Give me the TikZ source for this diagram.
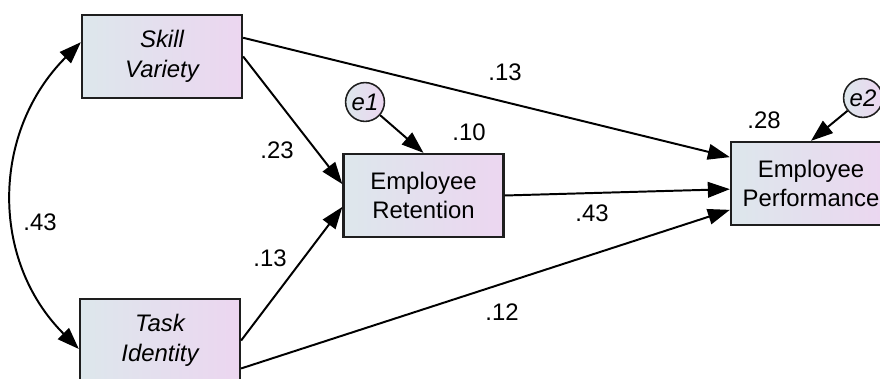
\documentclass[tikz,border=0pt]{standalone}
\usepackage{fontspec}
\setmainfont{Liberation Sans}
\usetikzlibrary{arrows.meta}

\definecolor{boxleft}{RGB}{221,231,236}
\definecolor{boxright}{RGB}{236,214,240}
\definecolor{edge}{RGB}{30,30,30}

\begin{document}
\begin{tikzpicture}[x=0.025cm, y=-0.025cm,
  var/.style={draw=edge, line width=1.6pt, left color=boxleft, right color=boxright,
    minimum width=4cm, minimum height=2.075cm, align=center, inner sep=0pt,
    font=\fontsize{17}{21}\selectfont},
  err/.style={circle, draw=edge, line width=1.1pt, left color=boxleft, right color=boxright,
    minimum size=0.97cm, inner sep=0pt, font=\fontsize{17}{21}\selectfont\itshape},
  effect/.style={line width=1.4pt, -{Triangle[length=5.5mm,width=3.9mm]}},
  coef/.style={font=\fontsize{17}{21}\selectfont}]
\useasboundingbox (0,0) rectangle (880,379);

% observed variables
\node [var] (sv) at (162,56.5) {\itshape Skill\\\itshape Variety};
\node [var] (ti) at (160,340.5) {\itshape Task\\\itshape Identity};
\node [var] (ret) at (423.5,195.5) {Employee\\Retention};
\node [var] (perf) at (811,183.5) {Employee\\Performance};

% error terms
\node [err] (e1) at (365,102) {e1};
\node [err] (e2) at (863,98) {e2};

% paths
\draw [effect] (sv.13) -- (perf.162);
\draw [effect] (sv.east) -- (ret.172);
\draw [effect] (ti.east) -- (ret.188);
\draw [effect] (ti.341) -- (perf.198);
\draw [effect] (ret.east) -- (perf.184);
\draw [effect] (e1) -- (ret.north);
\draw [effect] (e2) -- (perf.north);
\draw [effect, {Triangle[length=5.5mm,width=3.9mm]}-{Triangle[length=5.5mm,width=3.9mm]}]
  (sv.170) to [out=225, in=135, looseness=1.05] (ti.186);

% estimates
\node [coef] at (505,72) {.13};
\node [coef] at (277,150) {.23};
\node [coef] at (270,258) {.13};
\node [coef] at (40,222) {.43};
\node [coef] at (592,213) {.43};
\node [coef] at (502,312) {.12};
\node [coef] at (469,132) {.10};
\node [coef] at (764,120) {.28};
\end{tikzpicture}
\end{document}
